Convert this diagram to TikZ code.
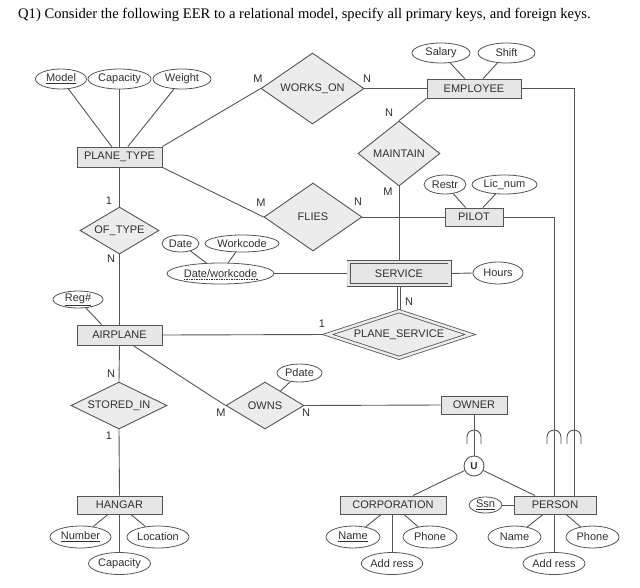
\documentclass[tikz,border=0pt]{standalone}
\usepackage{fontspec}
\setmainfont{Liberation Sans}
\newfontfamily\titlefont{Liberation Serif}
\usetikzlibrary{shapes.geometric,backgrounds}
\definecolor{ln}{HTML}{555555}
\definecolor{entfill}{HTML}{E6E6E6}
\definecolor{relfill}{HTML}{ECECEC}
\definecolor{tx}{HTML}{303030}
\tikzset{
  base/.style={font=\fontsize{11}{13}\selectfont, text=tx},
  ent/.style={base, rectangle, draw=ln, fill=entfill, line width=0.9pt, inner sep=0pt},
  rel/.style={base, diamond, draw=ln, fill=relfill, line width=0.9pt, inner sep=0pt},
  att/.style={base, ellipse, draw=ln, fill=white, line width=0.8pt, inner sep=0pt, minimum height=20},
  card/.style={base, inner sep=0pt},
  lnk/.style={draw=ln, line width=0.9pt},
  subs/.style={draw=ln, line width=0.9pt}
}
\begin{document}
\begin{tikzpicture}[x=1pt,y=-1pt]
\useasboundingbox (0,0) rectangle (640,587);

\node[anchor=west, inner sep=0pt, font=\titlefont\fontsize{14.6}{16}\selectfont] (title) at (18,15)
  {Q1) Consider the following EER to a relational model, specify all primary keys, and foreign keys.};

% entities
\node[ent, minimum width=85, minimum height=20] (pt) at (119.5,157) {PLANE\_TYPE};
\node[ent, minimum width=94, minimum height=19] (emp) at (474,88.5) {EMPLOYEE};
\node[ent, minimum width=58, minimum height=18] (pilot) at (474,217) {PILOT};
\node[ent, minimum width=101, minimum height=23, double=entfill, double distance=2.4pt, line width=0.8pt] (svc) at (399,273.5) {SERVICE};
\node[ent, minimum width=85, minimum height=20] (ap) at (119.5,335) {AIRPLANE};
\node[ent, minimum width=66, minimum height=18] (owner) at (474,405) {OWNER};
\node[ent, minimum width=85, minimum height=18] (hg) at (119.5,505) {HANGAR};
\node[ent, minimum width=106, minimum height=18] (corp) at (393,505) {CORPORATION};
\node[ent, minimum width=82, minimum height=18] (person) at (555,505) {PERSON};

% relationships
\node[rel, shape aspect=1.45, minimum width=103, minimum height=71] (wo) at (312.5,88.5) {WORKS\_ON};
\node[rel, shape aspect=1.26, minimum width=82, minimum height=65] (mt) at (399,153.5) {MAINTAIN};
\node[rel, shape aspect=1.44, minimum width=98, minimum height=68] (fl) at (313,217) {FLIES};
\node[rel, shape aspect=1.68, minimum width=79, minimum height=47] (ot) at (119.5,230.5) {OF\_TYPE};
\node[rel, shape aspect=3.0, minimum width=143, minimum height=47, double=relfill, double distance=2.4pt, line width=0.8pt] (ps) at (399,334.5) {PLANE\_SERVICE};
\node[rel, shape aspect=2.04, minimum width=96, minimum height=47] (si) at (119,405.5) {STORED\_IN};
\node[rel, shape aspect=1.66, minimum width=78, minimum height=47] (ow) at (265,405.5) {OWNS};

% attributes
\node[att, minimum width=51] (model) at (61,79) {\underline{Model}};
\node[att, minimum width=63] (ptcap) at (119.5,79) {Capacity};
\node[att, minimum width=58] (weight) at (182,79) {Weight};
\node[att, minimum width=58] (salary) at (441,53) {Salary};
\node[att, minimum width=57] (shift) at (506.5,53) {Shift};
\node[att, minimum width=42, minimum height=19] (restr) at (445,184.5) {Restr};
\node[att, minimum width=65, minimum height=19] (lic) at (504.5,184.5) {Lic\_num};
\node[att, minimum width=50, minimum height=22] (hours) at (498,273) {Hours};
\node[att, minimum width=37, minimum height=17] (date) at (180.5,243.5) {Date};
\node[att, minimum width=74, minimum height=17] (wc) at (242,243.5) {Workcode};
\node[att, minimum width=107, minimum height=21] (dw) at (220.5,273.5) {Date/workcode};
\node[att, minimum width=50, minimum height=17] (reg) at (78,299.5) {\underline{Reg\#}};
\node[att, minimum width=45, minimum height=18] (pdate) at (299.5,373) {Pdate};
\node[att, minimum width=61, minimum height=22] (num) at (80.5,537) {\underline{Number}};
\node[att, minimum width=62, minimum height=22] (loc) at (158,537) {Location};
\node[att, minimum width=62, minimum height=22] (hgcap) at (119.5,563.5) {Capacity};
\node[att, minimum width=54, minimum height=22] (cname) at (353,537) {\underline{Name}};
\node[att, minimum width=54, minimum height=22] (cphone) at (430,537) {Phone};
\node[att, minimum width=61, minimum height=22] (caddr) at (392,563.5) {Add ress};
\node[att, minimum width=33, minimum height=16] (ssn) at (485.5,505) {\underline{Ssn}};
\node[att, minimum width=53, minimum height=22] (pname) at (514.5,537) {Name};
\node[att, minimum width=53, minimum height=22] (pphone) at (592.5,537) {Phone};
\node[att, minimum width=62, minimum height=22] (paddr) at (554,563.5) {Add ress};

% dashed underline of the partial key
\draw[draw=tx, line width=0.6pt, dash pattern=on 1.5pt off 1pt] ([xshift=-37pt,yshift=-5.5pt]dw.center) -- ([xshift=37pt,yshift=-5.5pt]dw.center);

% union circle
\node[circle, draw=ln, fill=white, line width=0.9pt, minimum size=20, inner sep=0pt, font=\bfseries\fontsize{10}{12}\selectfont, text=tx] (u) at (474,466) {U};

% cardinalities
\node[card] (c1) at (258,79) {M};
\node[card] (c2) at (367,79) {N};
\node[card] (c3) at (389,113) {N};
\node[card] (c4) at (388,192) {M};
\node[card] (c5) at (261,203) {M};
\node[card] (c6) at (358,202) {N};
\node[card] (c7) at (109,201) {1};
\node[card] (c8) at (111,259) {N};
\node[card] (c9) at (409,302) {N};
\node[card] (c10) at (322,324) {1};
\node[card] (c11) at (111,374) {N};
\node[card] (c12) at (109,436) {1};
\node[card] (c13) at (221,413) {M};
\node[card] (c14) at (306,413) {N};

\coordinate (pc) at (554,217);
\coordinate (ec) at (574,88.5);

\begin{pgfonlayer}{background}
\fill[white] (0,0) rectangle (640,587);
% attribute links
\draw[lnk] (model) -- (pt);
\draw[lnk] (ptcap) -- (pt);
\draw[lnk] (weight) -- (pt);
\draw[lnk] (salary) -- (emp);
\draw[lnk] (shift) -- (emp);
\draw[lnk] (restr) -- (pilot);
\draw[lnk] (lic) -- (pilot);
\draw[lnk] (svc.east) -- (hours.west);
\draw[lnk] (date) -- (dw);
\draw[lnk] (wc) -- (dw);
\draw[lnk] (dw.east) -- (svc.west);
\draw[lnk] (reg) -- ([xshift=25pt]ap.north west);
\draw[lnk] (pdate) -- (ow);
\draw[lnk] (num) -- (hg);
\draw[lnk] (loc) -- (hg);
\draw[lnk] (hgcap) -- (hg);
\draw[lnk] (cname) -- (corp);
\draw[lnk] (cphone) -- (corp);
\draw[lnk] (caddr) -- (caddr |- corp.south);
\draw[lnk] (ssn) -- (person);
\draw[lnk] (pname) -- (person);
\draw[lnk] (pphone) -- (person);
\draw[lnk] (paddr) -- (paddr |- person.south);
% relationship links
\draw[lnk] (pt.north east) -- (wo.west);
\draw[lnk] (wo.east) -- (emp.west);
\draw[lnk] (pt.south east) -- (fl.west);
\draw[lnk] (fl.east) -- (pilot.west);
\draw[lnk] (emp.south west) -- (mt.north);
\draw[lnk] (mt.south) -- (svc.north);
\draw[draw=ln, line width=0.8pt, double=white, double distance=2pt] (svc.south) -- (ps.north);
\draw[lnk] (ap.east) -- (ps.west);
\draw[lnk] (pt.south) -- (ot.north);
\draw[lnk] (ot.south) -- (ap.north);
\draw[lnk] (ap.south) -- (si.north);
\draw[lnk] (si.south) -- (hg.north);
\draw[lnk] ([xshift=13.5pt]ap.south) -- (ow.west);
\draw[lnk] (ow.east) -- (owner.west);
% specialization / category
\draw[lnk] (owner) -- (u);
\draw[lnk] (u) -- ([xshift=20pt]corp.north);
\draw[lnk] (u) -- ([xshift=-20pt]person.north);
\draw[lnk] (pilot.east) -- (pc) -- (pc |- person.north);
\draw[lnk] (emp.east) -- (ec) -- (ec |- person.north);
\end{pgfonlayer}

% subset symbols
\draw[subs] (467,444) -- (467,437) arc (180:360:7) -- (481,444);
\draw[subs] (547,444) -- (547,437) arc (180:360:7) -- (561,444);
\draw[subs] (567,444) -- (567,437) arc (180:360:7) -- (581,444);
\end{tikzpicture}
\end{document}
